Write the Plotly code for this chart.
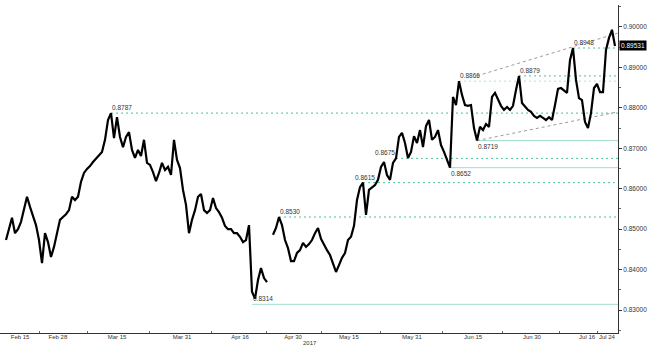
import plotly.graph_objects as go

# ---- data (EUR/GBP style price path, bar index units) ----
prices = [
    0.8473, 0.8498, 0.8528, 0.8490, 0.8500, 0.8518, 0.8552, 0.8580, 0.8555, 0.8530,
    0.8510, 0.8473, 0.8416, 0.8490, 0.8468, 0.8431, 0.8456, 0.8490, 0.8523, 0.8530,
    0.8537, 0.8547, 0.8580, 0.8572, 0.8580, 0.8617, 0.8639, 0.8649, 0.8656, 0.8666,
    0.8674, 0.8681, 0.8691, 0.8721, 0.8770, 0.8787, 0.8725, 0.8777, 0.8728, 0.8703,
    0.8728, 0.8740, 0.8696, 0.8676, 0.8696, 0.8681, 0.8721, 0.8664, 0.8659, 0.8641,
    0.8619, 0.8639, 0.8664, 0.8646, 0.8654, 0.8634, 0.8721, 0.8671, 0.8651, 0.8597,
    0.8560, 0.8490, 0.8523, 0.8547, 0.8580, 0.8587, 0.8547, 0.8540, 0.8547, 0.8577,
    0.8552, 0.8542, 0.8528, 0.8508, 0.8500, 0.8500, 0.8490, 0.8490, 0.8481, 0.8468,
    0.8473, 0.8510, 0.8345, 0.8328, 0.8374, 0.8404, 0.8379, 0.8369, None,   0.8486,
    0.8503, 0.8530, 0.8510, 0.8473, 0.8453, 0.8421, 0.8421, 0.8441, 0.8448, 0.8466,
    0.8456, 0.8463, 0.8473, 0.8490, 0.8503, 0.8476, 0.8461, 0.8448, 0.8436, 0.8416,
    0.8394, 0.8411, 0.8429, 0.8441, 0.8473, 0.8481, 0.8508, 0.8572, 0.8604, 0.8615,
    0.8535, 0.8597, 0.8602, 0.8609, 0.8622, 0.8654, 0.8666, 0.8634, 0.8622, 0.8664,
    0.8675, 0.8728, 0.8738, 0.8713, 0.8676, 0.8691, 0.8730, 0.8713, 0.8745, 0.8703,
    0.8755, 0.8770, 0.8721, 0.8728, 0.8745, 0.8708, 0.8691, 0.8671, 0.8652, 0.8827,
    0.8807, 0.8866, 0.8832, 0.8807, 0.8805, 0.8807, 0.8750, 0.8719, 0.8753, 0.8745,
    0.8760, 0.8753, 0.8827, 0.8837, 0.8819, 0.8805, 0.8795, 0.8802, 0.8795, 0.8805,
    0.8844, 0.8879, 0.8812, 0.8802, 0.8795, 0.8790, 0.8780, 0.8775, 0.8780, 0.8775,
    0.8770, 0.8777, 0.8770, 0.8807, 0.8847, 0.8849, 0.8842, 0.8837, 0.8918, 0.8948,
    0.8869, 0.8824, 0.8819, 0.8765, 0.8750, 0.8787, 0.8849, 0.8859, 0.8839, 0.8839,
    0.8943, 0.8973, 0.8993, 0.8953,
]
first_bar = 2
bars = list(range(first_bar, first_bar + len(prices)))

tick_labels = ["Feb 15", "Feb 28", "Mar 15", "Mar 31", "Apr 16", "Apr 30",
               "May 15", "May 31", "Jun 15", "Jun 30", "Jul 16", "Jul 24"]
tick_bars = [6.7, 19.3, 39.0, 60.7, 80.0, 97.7, 116.3, 137.3, 157.7, 177.3, 195.7, 202.3]
year_label = "2017"
year_bar = 103.3

level_values = [0.8787, 0.8314, 0.8530, 0.8615, 0.8675, 0.8652, 0.8719, 0.8866, 0.8879, 0.8948]
level_bars = [37, 84, 93, 121, 132, 150, 159, 153, 173, 191]
level_kind = ["dash", "solid", "dash", "dash", "dash", "solid", "solid", "light", "dash", "dash"]
label_pos = ["above", "above", "above", "center", "left", "below", "below", "above", "above", "above"]

trend_bars = [[159, 206], [159, 206]]
trend_prices = [[0.8879, 0.8985], [0.8719, 0.8790]]

last_price = 0.89531
last_bar = 206
y_range = [0.82431, 0.90544]

# ---- figure ----
fig = go.Figure()

styles = {
    "dash": dict(color="#45c49e", width=1, dash="2px,3px"),
    "light": dict(color="#b0e2d0", width=1, dash="2px,3px"),
    "solid": dict(color="#a3dcc8", width=1),
}
for v, b, k in zip(level_values, level_bars, level_kind):
    fig.add_trace(go.Scatter(x=[b, last_bar], y=[v, v], mode="lines",
                             line=styles[k], hoverinfo="skip", showlegend=False))

for tb, tp in zip(trend_bars, trend_prices):
    fig.add_trace(go.Scatter(x=tb, y=tp, mode="lines",
                             line=dict(color="#9a9a9a", width=1, dash="3px,3px"),
                             hoverinfo="skip", showlegend=False))

fig.add_trace(go.Scatter(x=bars, y=prices, mode="lines",
                         line=dict(color="#000000", width=2.2),
                         connectgaps=False, showlegend=False))

lab_font = dict(family="Liberation Sans", size=6.5, color="#333333")
for v, b, p in zip(level_values, level_bars, label_pos):
    a = dict(x=b, y=v, xref="x", yref="y", text=f"{v:.4f}", showarrow=False,
             font=lab_font, borderpad=0)
    if p == "above":
        a.update(xanchor="left", yanchor="bottom", yshift=1)
    elif p == "below":
        a.update(xanchor="left", yanchor="top", yshift=-1)
    elif p == "center":
        a.update(xanchor="center", yanchor="bottom", yshift=1, xshift=2)
    else:
        a.update(xanchor="right", yanchor="bottom", yshift=1)
    fig.add_annotation(**a)

fig.add_annotation(x=1, xref="paper", y=last_price, yref="y", text=f"{last_price:.5f}",
                   showarrow=False, xanchor="left", yanchor="middle", xshift=1,
                   bgcolor="#000000", borderpad=1,
                   font=dict(family="Liberation Sans", size=6.5, color="#ffffff"))

fig.add_annotation(x=year_bar, xref="x", y=0, yref="paper", text=year_label,
                   showarrow=False, xanchor="center", yanchor="top", yshift=-5,
                   font=dict(family="Liberation Sans", size=6, color="#333333"))

mids = [(a + b) / 2 for a, b in zip(tick_bars[:-1], tick_bars[1:])]

fig.update_layout(
    width=651, height=351,
    margin=dict(l=0, r=33, t=5, b=18),
    paper_bgcolor="white", plot_bgcolor="white",
    xaxis=dict(range=[0, last_bar], showline=True, linecolor="#333333", linewidth=1,
               showgrid=False, zeroline=False, tickmode="array",
               tickvals=tick_bars, ticktext=tick_labels, ticks="", ticklabelstandoff=-2,
               tickfont=dict(family="Liberation Sans", size=6, color="#333333"),
               minor=dict(tickmode="array", tickvals=mids, ticks="inside", ticklen=2,
                          tickcolor="#666666")),
    yaxis=dict(range=y_range, side="right", showline=True, linecolor="#333333", linewidth=1,
               showgrid=False, zeroline=False, tick0=0.83, dtick=0.01, tickformat=".5f",
               ticks="outside", ticklen=3, tickcolor="#333333",
               minor=dict(dtick=0.005, ticks="outside", ticklen=2, tickcolor="#666666"),
               tickfont=dict(family="Liberation Sans", size=6.5, color="#333333")),
)

fig.write_html("out.html")
